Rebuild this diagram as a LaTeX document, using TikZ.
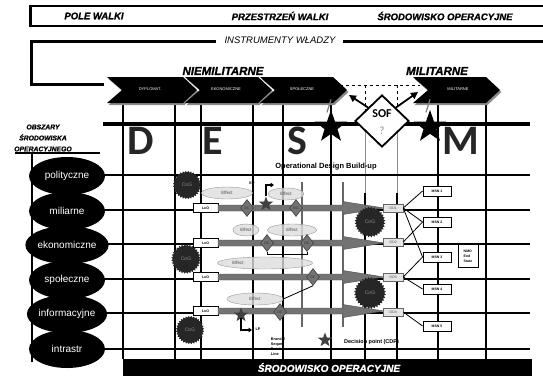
\documentclass[tikz,border=0pt]{standalone}
\usepackage{fontspec}
\setmainfont{Liberation Sans}
\newfontfamily\calfont{Carlito}
\newfontfamily\heavyfont[FakeBold=1.2]{Liberation Sans Bold Italic}
\usetikzlibrary{shapes.geometric,arrows.meta}
\begin{document}
\begin{tikzpicture}[x=1pt,y=-1pt,line join=miter,
 hdr/.style={font=\heavyfont\fontsize{9.5}{11}\selectfont,inner sep=0},
 gridln/.style={line width=2pt},
 chevtxt/.style={text=white,font=\fontsize{4}{5}\selectfont,inner sep=0},
 bigletter/.style={font=\calfont\bfseries\fontsize{42}{42}\selectfont,text=black!85,inner sep=0,text height=27pt,text depth=0pt},
 area/.style={ellipse,fill=black,minimum width=76pt,minimum height=38pt,inner sep=0,text=white,font=\fontsize{10}{12}\selectfont},
 loobox/.style={draw=black,line width=0.8pt,fill=white,minimum width=25pt,minimum height=9pt,inner sep=0,font=\fontsize{3.5}{4}\selectfont\bfseries},
 dcp/.style={diamond,fill=black!55,draw=black!75,line width=0.6pt,minimum width=13pt,minimum height=17pt,inner sep=0,font=\fontsize{3.5}{4}\selectfont,text=black!85},
 effect/.style={ellipse,fill=black!13,fill opacity=0.8,text opacity=1,draw=black!40,line width=0.4pt,minimum height=12pt,inner sep=0,font=\fontsize{4.5}{5}\selectfont,text=black!70},
 cog/.style={star,star points=32,star point ratio=0.88,fill=black!85,inner sep=0,font=\fontsize{5}{6}\selectfont,text=black!45},
 oobox/.style={draw=black!60,fill=black!10,line width=0.5pt,minimum width=20pt,minimum height=8pt,inner sep=0,font=\fontsize{3.5}{4}\selectfont,text=black!70},
 msnbox/.style={draw=black,fill=white,line width=0.9pt,minimum width=28pt,minimum height=10pt,inner sep=0,font=\fontsize{3.5}{4}\selectfont\bfseries},
 bigstar/.style={star,star points=5,star point ratio=2.5,fill=black,minimum size=34pt,inner sep=0},
 smallstar/.style={star,star points=5,star point ratio=2.4,fill=black!75,minimum size=15pt,inner sep=0},
 link/.style={line width=0.8pt},
 garrow/.style={fill=black!55,draw=black!70,line width=0.4pt},
 tinytxt/.style={font=\fontsize{3.8}{5}\selectfont\bfseries,inner sep=0}]
\useasboundingbox (0,0) rectangle (543,375);
\fill[white] (0,0) rectangle (543,375);

% top frame
\draw[line width=2.2pt] (548,6) -- (30.5,6) -- (30.5,26) -- (548,26);
\node[hdr] (pole) at (94,16) {POLE WALKI};
\node[hdr] (przes) at (280,16) {PRZESTRZEŃ WALKI};
\node[hdr] (srod) at (445,16) {ŚRODOWISKO OPERACYJNE};

% instruments
\node[font=\fontsize{9.5}{11}\selectfont\itshape,inner sep=0] (instr) at (280,40) {INSTRUMENTY WŁADZY};
\draw[line width=3pt] (216,41) -- (31,41) -- (31,84) -- (104,84);
\draw[line width=3pt] (343,41) -- (548,41);
\node[font=\heavyfont\fontsize{11.5}{13}\selectfont,inner sep=0] (niem) at (223,71) {NIEMILITARNE};
\node[font=\heavyfont\fontsize{11.5}{13}\selectfont,inner sep=0] (milt) at (437,71) {MILITARNE};

% grid
\foreach \x in {123,175,201,253,283,331,438,486} {\draw[gridln] (\x,103) -- (\x,359);}
\draw[dashed,line width=1pt] (340,85) -- (420,85);
\draw[dashed,line width=1pt] (365,85) -- (365,116);
\draw[dashed,line width=1pt] (397,85) -- (397,116);
\draw[black!45,line width=1pt] (365,121) -- (365,193);
\draw[black!45,line width=1pt] (397,121) -- (397,193);
\draw[gridln] (365,193) -- (365,359);
\draw[gridln] (397,193) -- (397,359);
\draw[line width=3.5pt] (103,124) -- (530,124);
\foreach \y in {175,210,244,279,313,349} {\draw[gridln] (100,\y) -- (530,\y);}
\draw[black!60,line width=1.2pt] (302,182) -- (302,327);
\draw[black!60,line width=1.2pt] (343,182) -- (343,327);

% chevrons
\foreach \a/\b/\t/\tx [count=\i] in {107/197/DYPLOMAT./150,185/272/EKONOMICZNE/226,260/347/SPOŁECZNE/302,413/500/MILITARNE/458} {
 \fill[black!45] (\a+1.5,79) -- (\b-12.5,79) -- (\b+1.5,92) -- (\b-12.5,105) -- (\a+1.5,105) -- (\a+16.5,92) -- cycle;
 \fill[black] (\a,77) -- (\b-14,77) -- (\b,90) -- (\b-14,103) -- (\a,103) -- (\a+15,90) -- cycle;
 \node[chevtxt] (chev\i) at (\tx,89) {\t};
}

% SOF
\node[diamond,draw=black,line width=1.8pt,fill=white,minimum width=54pt,minimum height=52pt,inner sep=0] (sof) at (382,121) {};
\node[font=\calfont\bfseries\fontsize{12}{12}\selectfont,inner sep=0] (soft) at (382,114) {SOF};
\node[font=\calfont\fontsize{11}{11}\selectfont,text=black!45,inner sep=0] (sofq) at (382,131) {?};
\coordinate (al) at (349,95);
\coordinate (ar) at (418,92);
\draw[line width=1.8pt,-{Triangle[length=7pt,width=7pt]}] (sof.north west) -- (al);
\draw[line width=1.8pt,-{Triangle[length=7pt,width=7pt]}] (sof.north east) -- (ar);
\node[bigstar] (st1) at (331,127) {};
\node[bigstar] (st2) at (430,127) {};
\draw[black!50,line width=1.2pt] (st1.north) ++(-4,3) -- ++(4,-13);
\draw[black!50,line width=1.2pt] (st2.north) ++(-4,3) -- ++(4,-13);

% big letters
\node[bigletter] (ld) at (141,141) {D};
\node[bigletter] (le) at (213,141) {E};
\node[bigletter] (ls) at (297,141) {S};
\node[bigletter] (lm) at (461,141) {M};
\node[font=\fontsize{7.5}{9}\selectfont\bfseries,inner sep=0] (odb) at (326,167) {Operational Design Build-up};

% left column
\node[align=center,font=\heavyfont\fontsize{6.8}{11}\selectfont,inner sep=0] (obsz) at (43,138) {OBSZARY\\ŚRODOWISKA\\OPERACYJNEGO};
\draw[line width=1.5pt] (15,153) -- (100,153);
\draw[line width=1.5pt] (32,153) -- (32,362);
\foreach \y/\t [count=\i] in {176/polityczne,211/miliarne,245/ekonomiczne,280/społeczne,314/informacyjne,349/intrastr} {
 \node[area] (ar\i) at (67,\y) {\t};
}

% effects
\node[effect,minimum width=51pt] (e11) at (227,193) {Effect};
\node[effect,minimum width=36pt] (e12) at (286,194) {Effect};
\node[effect,minimum width=26pt] (e21) at (246,230) {Effect};
\node[effect,minimum width=49pt] (e22) at (292,230) {Effect};
\node[effect,minimum width=95pt] (e31) at (265,263) {};
\node[font=\fontsize{4.5}{5}\selectfont,text=black!70,inner sep=0] (e31t) at (238,263) {Effect};
\node[effect,minimum width=56pt] (e41) at (255,299) {Effect};

% lines of operation
\foreach \y [count=\i] in {208,243,277,311} {
 \node[loobox] (loo\i) at (205.5,\y) {LoO};
 \filldraw[garrow] (218,\y-3) -- (343,\y-3) -- (343,\y-6.5) -- (384,\y) -- (343,\y+6.5) -- (343,\y+3) -- (218,\y+3) -- cycle;
}
\node[dcp] (dc11) at (247,208) {DC};
\node[dcp] (dc12) at (296,208) {DC};
\node[dcp] (dc21) at (267,243) {DC};
\node[dcp] (dc22) at (307,243) {DC};
\node[dcp] (dc31) at (313,277) {DC};
\node[dcp] (dc41) at (280,312) {DC};
\draw[line width=0.8pt] (dc21.south) -- ++(0,3) -| (dc22.south);
\draw[line width=0.8pt] (dc31.south) -- (e41.east);

% centres of gravity
\node[cog,minimum size=25pt] (g1) at (187,185) {CoG};
\node[cog,minimum size=26pt] (g2) at (186,259) {CoG};
\node[cog,minimum size=25pt] (g3) at (190,330) {CoG};
\node[cog,minimum size=27pt] (g4) at (370,222) {CoG};
\node[cog,minimum size=28pt] (g5) at (370,293) {CoG};

% objectives and missions
\node[oobox] (oo1) at (393,208) {OO1};
\node[oobox] (oo2) at (393,242) {OO2};
\node[oobox] (oo3) at (393,277) {OO3};
\node[oobox] (oo4) at (393,312) {OO4};
\node[msnbox] (m1) at (437,191) {MSN 1};
\node[msnbox] (m2) at (437,222) {MSN 2};
\node[msnbox] (m3) at (437,257) {MSN 3};
\node[msnbox] (m4) at (437,289) {MSN 4};
\node[msnbox] (m5) at (437,326) {MSN 5};
\node[draw=black,fill=white,line width=0.8pt,minimum width=20pt,minimum height=23pt,inner sep=1pt,align=left,font=\fontsize{3.5}{5}\selectfont\bfseries] (es) at (468,256) {NMO\\End\\State};
\draw[link] (oo1.east) -- (m1.west);
\draw[link] (oo1.east) -- (m2.west);
\draw[link] (oo1.east) -- (m3.west);
\draw[link] (oo2.east) -- (m2.west);
\draw[link] (oo3.east) -- (m3.west);
\draw[link] (oo3.east) -- (m4.west);
\draw[link] (oo4.east) -- (m5.west);

% decision points
\node[smallstar] (ss1) at (266,204) {};
\node[smallstar] (ss2) at (241,315) {};
\node[smallstar] (ss3) at (325,340) {};
\coordinate (la1) at (274,185);
\coordinate (la2) at (252,330);
\draw[line width=1.6pt,-{Triangle[length=3.5pt,width=4.5pt]}] (ss1.north) |- (la1);
\draw[line width=1.6pt,-{Triangle[length=3.5pt,width=4.5pt]}] (ss2.south) |- (la2);
\node[tinytxt] (ep) at (252,183) {EP};
\node[tinytxt] (lp) at (258,329) {LP};
\node[tinytxt,align=left] (lg) at (278,347) {Branch/\\Sequel\\Point\\Line};
\node[font=\fontsize{5.5}{6}\selectfont\bfseries,inner sep=0,anchor=west] (dp) at (344,342) {Decision point (CDP)};

% bottom bar
\fill[black] (123,359) rectangle (532,376);
\node[text=white,font=\heavyfont\fontsize{10}{12}\selectfont,inner sep=0] (sob) at (329,367.5) {ŚRODOWISKO OPERACYJNE};
\end{tikzpicture}
\end{document}
